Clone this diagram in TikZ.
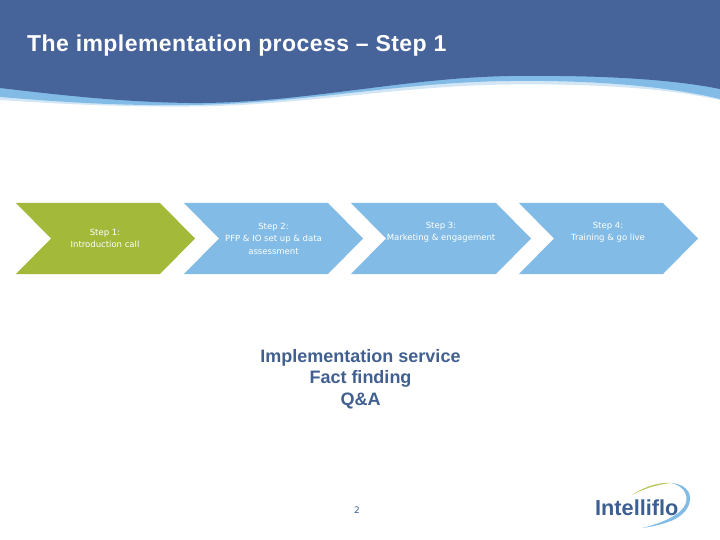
\documentclass[tikz,border=0pt]{standalone}
\usepackage{fontspec}
\setmainfont{Liberation Sans}
\newfontfamily\stepfont{DejaVu Sans}
\definecolor{headerblue}{HTML}{46639A}
\definecolor{bandblue}{HTML}{82BCE6}
\definecolor{bandpale}{HTML}{D3E6F6}
\definecolor{stepgreen}{HTML}{A2B93A}
\definecolor{bodyblue}{HTML}{41608F}
\definecolor{logoblue}{HTML}{3C5F92}
\definecolor{logogreen}{HTML}{B5CC5C}
\tikzset{
    steptext/.style={align=center, text=white, font=\stepfont\fontsize{8.5}{12.5}\selectfont},
    bodytext/.style={align=center, text=bodyblue, font=\bfseries\fontsize{18}{21.5}\selectfont},
}
\begin{document}
\begin{tikzpicture}[x=1pt, y=-1pt]
        \useasboundingbox (0,0) rectangle (720,540);
        % Draw the header with its wave
        \fill[bandpale] (0,100) .. controls (60,104) and (120,107) .. (190,106.5) .. controls (300,106) and (400,85.5) .. (510,84.5) .. controls (600,83.5) and (670,89) .. (720,100) -- (720,70) -- (0,70) -- cycle;
        \fill[bandblue] (0,97) .. controls (60,102) and (120,106) .. (190,105) .. controls (300,104) and (400,82) .. (510,81) .. controls (600,80) and (670,87) .. (720,99) -- (720,70) -- (0,70) -- cycle;
        \fill[headerblue] (0,88) .. controls (60,95) and (120,102) .. (190,103) .. controls (300,104) and (400,78) .. (510,76) .. controls (600,75) and (670,79) .. (720,89) -- (720,0) -- (0,0) -- cycle;
        \node[anchor=base west, inner sep=0pt, text=white, font=\bfseries\addfontfeature{LetterSpace=1.9}\fontsize{23}{26}\selectfont] (title) at (27,51.5) {The implementation process -- Step 1};
        % Draw the four chevrons
        \fill[stepgreen] (16,203) -- (160,203) -- (195,238.5) -- (160,274) -- (16,274) -- (51,238.5) -- cycle;
        \fill[bandblue] (184,203) -- (328,203) -- (363,238.5) -- (328,274) -- (184,274) -- (219,238.5) -- cycle;
        \fill[bandblue] (351,203) -- (496,203) -- (531,238.5) -- (496,274) -- (351,274) -- (386,238.5) -- cycle;
        \fill[bandblue] (519,203) -- (663,203) -- (698,238.5) -- (663,274) -- (519,274) -- (554,238.5) -- cycle;
        \node[steptext] (stepone) at (105,238.5) {Step 1:\\Introduction call};
        \node[steptext] (steptwo) at (273.5,238.5) {Step 2:\\PFP \& IO set up \& data\\assessment};
        \node[steptext] (stepthree) at (441,232) {Step 3:\\Marketing \& engagement};
        \node[steptext] (stepfour) at (608,232) {Step 4:\\Training \& go live};
        % Body text and page number
        \node[bodytext] (body) at (360.5,379) {Implementation service\\Fact finding\\Q\&A};
        \node[text=logoblue, font=\stepfont\fontsize{9}{10}\selectfont] (page) at (357,510) {2};
        % Logo with its swoosh
        \fill[logogreen] (632,495) .. controls (645,486) and (660,482) .. (671,483) .. controls (660,484) and (645,488) .. cycle;
        \fill[bandblue] (671,483) .. controls (685,484) and (691,492) .. (690,500) .. controls (689,511) and (678,519) .. (668,522) .. controls (660,525) and (650,527) .. (642,528) .. controls (655,525) and (676,518) .. (684,507) .. controls (690,497) and (685,486) .. cycle;
        \node[text=logoblue, font=\bfseries\fontsize{21.7}{24}\selectfont, anchor=base west, inner sep=0pt] (logo) at (595,515.5) {Intelliflo};
    \end{tikzpicture}
\end{document}
